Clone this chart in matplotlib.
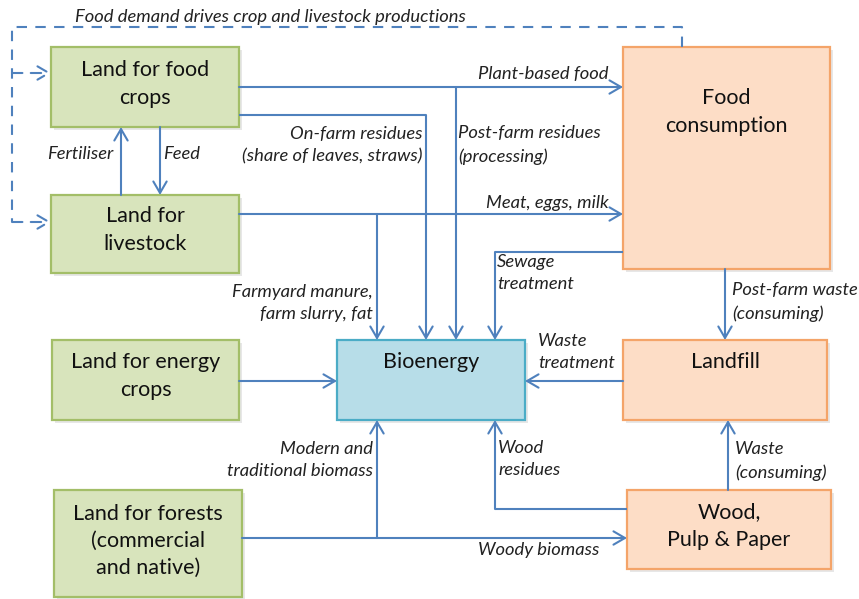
import matplotlib
matplotlib.use("Agg")
import matplotlib.pyplot as plt
from matplotlib.patches import Rectangle

plt.rcParams['font.family'] = ['Lato', 'DejaVu Sans']

# ---- node data ----
box_names = ["food_crops", "livestock", "energy", "forests", "bioenergy", "food_cons", "landfill", "wood"]
box_labels = ["Land for food\ncrops", "Land for\nlivestock", "Land for energy\ncrops",
              "Land for forests\n(commercial\nand native)", "Bioenergy", "Food\nconsumption",
              "Landfill", "Wood,\nPulp & Paper"]
box_kinds = ["land", "land", "land", "land", "bio", "sink", "sink", "sink"]
# x0, y0, x1, y1 in pixel space (y downward)
box_rects = [(51, 47, 239, 127), (51, 195, 239, 273), (52, 340, 239, 420), (54, 490, 242, 597),
             (337, 340, 525, 420), (623, 47, 830, 269), (623, 340, 827, 420), (627, 490, 831, 569)]
box_text_y = [84, 230, 376, 541, 362, 112, 362, 526]

# ---- flow labels ----
flow_labels = ["Food demand drives crop and livestock productions", "Plant-based food",
               "On-farm residues\n(share of leaves, straws)", "Post-farm residues\n(processing)",
               "Fertiliser", "Feed", "Meat, eggs, milk", "Sewage\ntreatment",
               "Farmyard manure,\nfarm slurry, fat", "Post-farm waste\n(consuming)",
               "Waste\ntreatment", "Modern and\ntraditional biomass", "Wood\nresidues",
               "Waste\n(consuming)", "Woody biomass"]
flow_label_pos = [(75, 17, 'left'), (609, 74, 'right'), (422, 145, 'right'), (458, 145, 'left'),
                  (113, 154, 'right'), (163, 154, 'left'), (609, 203, 'right'), (497, 273, 'left'),
                  (373, 303, 'right'), (732, 302, 'left'), (538, 352, 'left'), (373, 460, 'right'),
                  (498, 459, 'left'), (735, 461, 'left'), (478, 550, 'left')]

styles = {
    "land": ("#D8E4BC", "#A3BE68"),
    "bio": ("#B7DDE8", "#4BACC6"),
    "sink": ("#FDDDC6", "#F4A469"),
}
LINE = "#4F81BD"

fig = plt.figure(figsize=(8.59, 5.99), dpi=100)
ax = fig.add_axes([0, 0, 1, 1])
ax.set_xlim(0, 859)
ax.set_ylim(599, 0)
ax.axis('off')

for name, lab, kind, (x0, y0, x1, y1), ty in zip(box_names, box_labels, box_kinds, box_rects, box_text_y):
    fc, ec = styles[kind]
    ax.add_patch(Rectangle((x0 + 3, y0 + 3), x1 - x0, y1 - y0, facecolor="#c4c4c4",
                           edgecolor='none', alpha=0.4, zorder=1))
    ax.add_patch(Rectangle((x0, y0), x1 - x0, y1 - y0, facecolor=fc, edgecolor=ec,
                           linewidth=1.6, zorder=2))
    ax.text((x0 + x1) / 2, ty, lab, ha='center', va='center', fontsize=15.5,
            color="#111111", linespacing=1.45, zorder=5)

AP = dict(arrowstyle='->,head_length=0.55,head_width=0.32', color=LINE, lw=1.5,
          shrinkA=0, shrinkB=0, mutation_scale=15)


def path(pts, dashed=False, arrow=True):
    ls = (0, (5, 4)) if dashed else '-'
    xs = [p[0] for p in pts]
    ys = [p[1] for p in pts]
    if arrow:
        ax.plot(xs[:-1], ys[:-1], color=LINE, lw=1.5, ls=ls, zorder=3, solid_capstyle='butt')
        props = dict(AP)
        props['linestyle'] = ls
        ax.annotate('', xy=pts[-1], xytext=pts[-2], arrowprops=props, zorder=3)
    else:
        ax.plot(xs, ys, color=LINE, lw=1.5, ls=ls, zorder=3)


# dashed feedback loop
path([(682, 47), (682, 27), (12, 27), (12, 222)], dashed=True, arrow=False)
path([(12, 73), (51, 73)], dashed=True)
path([(12, 222), (51, 222)], dashed=True)

# solid flows
path([(239, 87), (623, 87)])
path([(456, 87), (456, 340)])
path([(239, 115), (426, 115), (426, 340)])
path([(121, 195), (121, 127)])
path([(160, 127), (160, 195)])
path([(239, 214), (623, 214)])
path([(377, 214), (377, 340)])
path([(623, 252), (495, 252), (495, 340)])
path([(725, 269), (725, 340)])
path([(623, 381), (525, 381)])
path([(239, 381), (337, 381)])
path([(242, 538), (627, 538)])
path([(377, 538), (377, 420)])
path([(627, 509), (495, 509), (495, 420)])
path([(728, 490), (728, 420)])

for lab, (x, y, ha) in zip(flow_labels, flow_label_pos):
    ax.text(x, y, lab, ha=ha, va='center', fontsize=13.2, style='italic',
            color="#222222", linespacing=1.5, zorder=6)

fig.savefig("out.png", dpi=100)
